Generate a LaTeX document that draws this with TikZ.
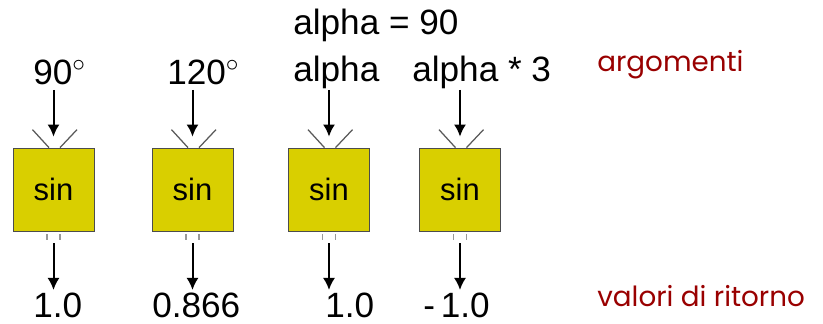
\documentclass[tikz,border=0pt]{standalone}
\usepackage{fontspec}
\setmainfont{Liberation Sans}
\newfontfamily\notefont{Poppins}
\usetikzlibrary{arrows.meta,positioning}
\definecolor{sinfill}{RGB}{217,207,0}
\definecolor{notered}{RGB}{153,0,0}

\begin{document}
\begin{tikzpicture}
    \tikzset{x=0.2mm,y=-0.2mm,every path/.style={>={Latex[length=2.4mm,width=2.4mm]}},
      sinbox/.style={draw=black!70,line width=0.4pt,fill=sinfill,minimum width=16.2mm,
        minimum height=16.6mm,inner sep=0,font=\fontsize{17.6}{20}\selectfont},
      val/.style={anchor=base west,inner sep=0,font=\fontsize{20}{24}\selectfont},
      note/.style={anchor=base west,inner sep=0,text=notered,font=\notefont\fontsize{15.8}{19}\selectfont},
      flow/.style={->,line width=0.4mm},
      slash/.style={draw=black!65,line width=0.25mm},
      tick/.style={draw=black!40,line width=0.35mm}}
    \useasboundingbox (0,0) rectangle (823,324);
    % the four sin blocks
    \node [sinbox] (s1) at (53.5,189.5) {sin};
    \node [sinbox] (s2) at (192.5,189.5) {sin};
    \node [sinbox] (s3) at (329,189.5) {sin};
    \node [sinbox] (s4) at (460,189.5) {sin};
    % arguments
    \node [val] (a1) at (33,85) {90$^\circ$};
    \node [val] (a2) at (167,85) {120$^\circ$};
    \node [val] (def) at (293,35) {alpha = 90};
    \node [val] (a3) at (293,82) {alpha};
    \node [val] (a4) at (412,82) {alpha * 3};
    % return values
    \node [val] (r1) at (33,318) {1.0};
    \node [val] (r2) at (152,318) {0.866};
    \node [val] (r3) at (325,318) {1.0};
    \node [val] (r4) at (423,318) {-\,1.0};
    \node [note] (arg) at (597,72) {argomenti};
    \node [note] (ret) at (597,307) {valori di ritorno};
    % in and out ends of the arrows
    \coordinate (top1) at (53.5,90);
    \coordinate (top2) at (192.5,90);
    \coordinate (top3) at (329,90);
    \coordinate (top4) at (460,90);
    \coordinate (bot1) at (53.5,290);
    \coordinate (bot2) at (192.5,290);
    \coordinate (bot3) at (329,290);
    \coordinate (bot4) at (460,290);
    \draw[flow,shorten >=2.2mm] (top1) -- (s1.north);
    \draw[flow,shorten >=2.2mm] (top2) -- (s2.north);
    \draw[flow,shorten >=2.2mm] (top3) -- (s3.north);
    \draw[flow,shorten >=2.2mm] (top4) -- (s4.north);
    \draw[flow,shorten <=2.4mm] (s1.south) -- (bot1);
    \draw[flow,shorten <=2.4mm] (s2.south) -- (bot2);
    \draw[flow,shorten <=2.4mm] (s3.south) -- (bot3);
    \draw[flow,shorten <=2.4mm] (s4.south) -- (bot4);
    % funnel strokes on top, little ticks below
    \draw[slash] ([shift={(-21,-18)}]s1.north) -- ([shift={(-4.5,0)}]s1.north)
                 ([shift={(6.5,0)}]s1.north) -- ([shift={(23.5,-18)}]s1.north);
    \draw[slash] ([shift={(-21,-18)}]s2.north) -- ([shift={(-4.5,0)}]s2.north)
                 ([shift={(6.5,0)}]s2.north) -- ([shift={(23.5,-18)}]s2.north);
    \draw[slash] ([shift={(-21,-18)}]s3.north) -- ([shift={(-4.5,0)}]s3.north)
                 ([shift={(6.5,0)}]s3.north) -- ([shift={(23.5,-18)}]s3.north);
    \draw[slash] ([shift={(-21,-18)}]s4.north) -- ([shift={(-4.5,0)}]s4.north)
                 ([shift={(6.5,0)}]s4.north) -- ([shift={(23.5,-18)}]s4.north);
    \draw[tick] ([shift={(-6.5,3)}]s1.south) -- ([shift={(-6.5,9)}]s1.south)
                ([shift={(6.5,3)}]s1.south) -- ([shift={(6.5,9)}]s1.south);
    \draw[tick] ([shift={(-6.5,3)}]s2.south) -- ([shift={(-6.5,9)}]s2.south)
                ([shift={(6.5,3)}]s2.south) -- ([shift={(6.5,9)}]s2.south);
    \draw[tick] ([shift={(-6.5,3)}]s3.south) -- ([shift={(-6.5,9)}]s3.south)
                ([shift={(6.5,3)}]s3.south) -- ([shift={(6.5,9)}]s3.south);
    \draw[tick] ([shift={(-6.5,3)}]s4.south) -- ([shift={(-6.5,9)}]s4.south)
                ([shift={(6.5,3)}]s4.south) -- ([shift={(6.5,9)}]s4.south);
\end{tikzpicture}
\end{document}
